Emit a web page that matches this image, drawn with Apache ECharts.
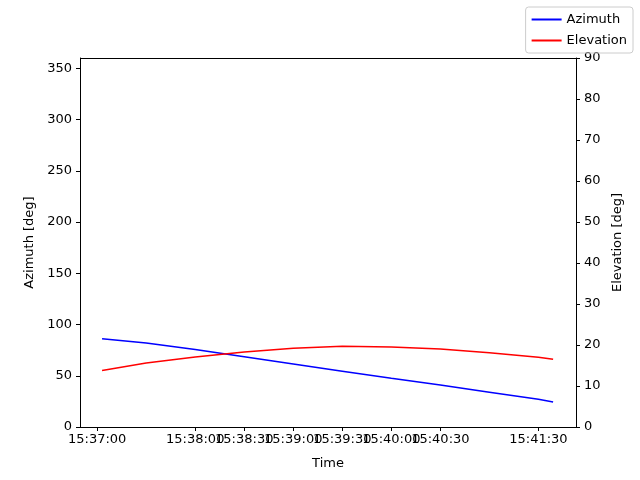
<!DOCTYPE html>
<html><head><meta charset="utf-8">
<script src="https://cdn.jsdelivr.net/npm/echarts@6/dist/echarts.min.js"></script>
<style>html,body{margin:0;padding:0;background:#fff}#c{width:640px;height:480px}</style>
</head><body><div id="c"></div>
<script>
// seconds after 15:37:00
const times = [3, 30, 60, 90, 120, 150, 180, 210, 240, 270, 279];
const azimuth = [86, 82, 75.5, 68.5, 61.5, 54.5, 47.5, 41, 34, 27, 24.5];
const elevation = [13.8, 15.6, 17.1, 18.3, 19.2, 19.7, 19.5, 19.0, 18.1, 17.0, 16.5];
const tickSeconds = [0, 30, 60, 90, 120, 150, 180, 210, 240, 270];
const tickLabels = ['15:37:00','15:37:30','15:38:00','15:38:30','15:39:00','15:39:30','15:40:00','15:40:30','15:41:00','15:41:30'];

const font = 'DejaVu Sans';
const chart = echarts.init(document.getElementById('c'));
chart.setOption({
  animation: false,
  textStyle: {fontFamily: font},
  grid: {left: 80, right: 64, top: 58, bottom: 53},
  legend: {
    right: 7, top: 7, orient: 'vertical', itemWidth: 30, itemHeight: 2, itemGap: 8,
    borderColor: '#ccc', borderWidth: 1, borderRadius: 3, padding: [6, 6, 6, 6],
    textStyle: {fontFamily: font, fontSize: 13, color: '#000'},
    data: [{name: 'Azimuth', icon: 'rect'}, {name: 'Elevation', icon: 'rect'}]
  },
  xAxis: {
    type: 'value', min: -10.5, max: 293,
    name: 'Time', nameLocation: 'middle', nameGap: 30,
    nameTextStyle: {fontSize: 13, color: '#000'},
    splitLine: {show: false},
    axisLine: {onZero: false, lineStyle: {color: '#000'}},
    axisTick: {customValues: tickSeconds, length: 4, lineStyle: {color: '#000'}},
    axisLabel: {customValues: tickSeconds, fontSize: 13, color: '#000', margin: 6,
      hideOverlap: false, showMinLabel: true, showMaxLabel: true,
      formatter: v => tickLabels[tickSeconds.indexOf(Math.round(v))] || ''}
  },
  yAxis: [{
    type: 'value', min: 0, max: 360, interval: 50,
    name: 'Azimuth [deg]', nameLocation: 'middle', nameGap: 42,
    nameTextStyle: {fontSize: 13, color: '#000'},
    splitLine: {show: false},
    axisLine: {show: true, onZero: false, lineStyle: {color: '#000'}},
    axisTick: {show: true, length: 4, lineStyle: {color: '#000'}},
    axisLabel: {fontSize: 13, color: '#000', showMaxLabel: false}
  }, {
    type: 'value', min: 0, max: 90, interval: 10,
    name: 'Elevation [deg]', nameLocation: 'middle', nameGap: 32, nameRotate: 90,
    nameTextStyle: {fontSize: 13, color: '#000'},
    splitLine: {show: false},
    axisLine: {show: true, onZero: false, lineStyle: {color: '#000'}},
    axisTick: {show: true, length: 4, lineStyle: {color: '#000'}},
    axisLabel: {fontSize: 13, color: '#000'}
  }],
  series: [{
    name: 'Azimuth', type: 'line', yAxisIndex: 0, showSymbol: false, color: '#0000ff',
    lineStyle: {width: 1.5}, data: times.map((t, i) => [t, azimuth[i]])
  }, {
    name: 'Elevation', type: 'line', yAxisIndex: 1, showSymbol: false, color: '#ff0000',
    lineStyle: {width: 1.5}, data: times.map((t, i) => [t, elevation[i]])
  }],
  graphic: [{type: 'line', shape: {x1: 80, y1: 58.5, x2: 576, y2: 58.5}, style: {stroke: '#000', lineWidth: 1}}]
});
</script></body></html>
